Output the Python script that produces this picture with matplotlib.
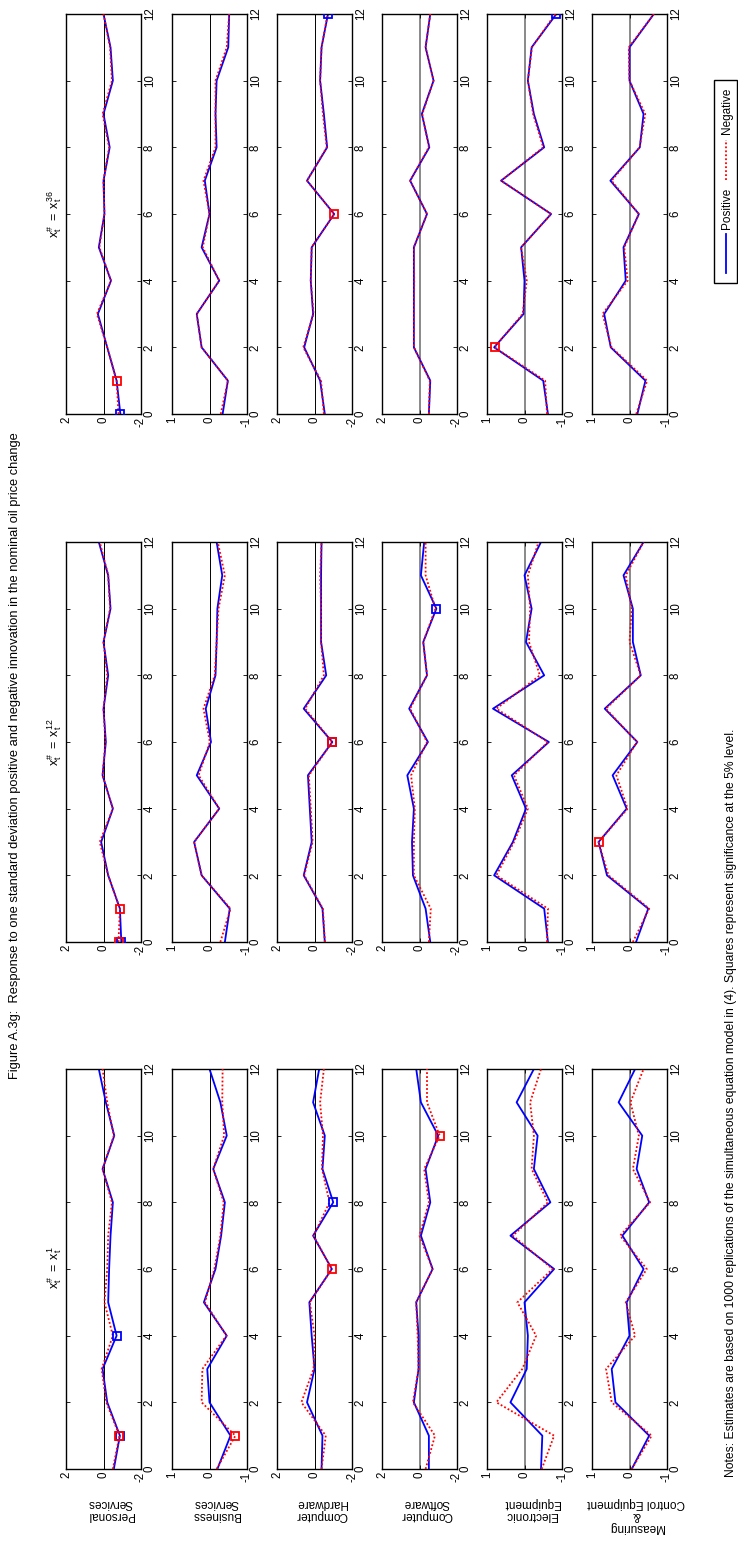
import numpy as np
import matplotlib
matplotlib.use("Agg")
import matplotlib.pyplot as plt
from matplotlib.patches import Rectangle
from matplotlib.lines import Line2D

plt.rcParams['font.family'] = ['Liberation Sans', 'DejaVu Sans']
plt.rcParams['axes.unicode_minus'] = False
plt.rcParams['mathtext.fontset'] = 'custom'
plt.rcParams['mathtext.rm'] = 'Liberation Sans'
plt.rcParams['mathtext.it'] = 'Liberation Sans:italic'

# horizon (months)
horizon = np.arange(13)

sectors = ["Personal\nServices", "Business\nServices", "Computer\nHardware",
           "Computer\nSoftware", "Electronic\nEquipment",
           "Measuring\n&\nControl Equipment"]
sector_lim = [2, 1, 2, 2, 1, 1]
lags = ["1", "12", "36"]

# x# = x1 : responses t=0..12
pos_x1 = [
    [-0.55, -0.875, -0.2, 0.05, -0.7, -0.25, -0.3, -0.375, -0.5, 0.05, -0.575, -0.125, 0.25],
    [-0.21, -0.56, 0.0, 0.06, -0.46, 0.15, -0.16, -0.31, -0.41, -0.1, -0.46, -0.29, 0.0],
    [-0.375, -0.425, 0.4, 0.0, 0.15, 0.275, -0.925, 0.075, -1.0, -0.425, -0.55, 0.075, -0.25],
    [-0.5, -0.5, 0.3, 0.05, 0.05, 0.175, -0.7, -0.075, -0.575, -0.325, -1.0, -0.075, 0.175],
    [-0.44, -0.475, 0.375, -0.06, -0.09, 0.0, -0.79, 0.375, -0.69, -0.25, -0.35, 0.21, -0.25],
    [-0.06, -0.525, 0.375, 0.475, 0.0, 0.075, -0.375, 0.19, -0.525, -0.19, -0.34, 0.29, -0.15],
]
neg_x1 = [
    [-0.5, -0.85, -0.15, 0.1, -0.5, -0.05, -0.2, -0.25, -0.45, 0.05, -0.55, -0.2, 0.05],
    [-0.19, -0.69, 0.21, 0.19, -0.45, 0.12, -0.13, -0.29, -0.38, -0.1, -0.39, -0.34, -0.35],
    [-0.375, -0.6, 0.7, 0.05, 0.0, 0.25, -0.925, 0.05, -0.8, -0.4, -0.45, -0.3, -0.5],
    [-0.325, -0.825, 0.35, 0.05, 0.1, 0.175, -0.7, 0.0, -0.5, -0.25, -1.075, -0.4, -0.4],
    [-0.46, -0.79, 0.75, 0.06, -0.31, 0.19, -0.75, 0.31, -0.625, -0.19, -0.25, -0.15, -0.44],
    [-0.06, -0.59, 0.475, 0.625, -0.15, 0.1, -0.46, 0.25, -0.55, -0.09, -0.25, -0.025, -0.375],
]

# x# = x12
pos_x12 = [
    [-0.95, -0.875, -0.25, 0.125, -0.5, 0.05, -0.125, 0.0, -0.25, 0.0, -0.375, -0.25, 0.25],
    [-0.41, -0.54, 0.21, 0.41, -0.26, 0.34, -0.04, 0.1, -0.16, -0.19, -0.21, -0.34, -0.19],
    [-0.55, -0.425, 0.575, 0.15, 0.25, 0.35, -0.95, 0.575, -0.625, -0.35, -0.35, -0.35, -0.375],
    [-0.575, -0.325, 0.35, 0.4, 0.3, 0.65, -0.45, 0.55, -0.4, -0.2, -0.9, -0.075, -0.25],
    [-0.625, -0.525, 0.81, 0.31, -0.04, 0.34, -0.65, 0.84, -0.525, -0.04, -0.19, 0.0, -0.44],
    [-0.175, -0.5, 0.6, 0.825, 0.075, 0.45, -0.21, 0.66, -0.3, -0.09, -0.09, 0.16, -0.375],
]
neg_x12 = [
    [-0.8, -0.875, -0.25, 0.2, -0.5, 0.05, -0.1, 0.0, -0.2, 0.0, -0.35, -0.25, 0.2],
    [-0.29, -0.56, 0.21, 0.41, -0.26, 0.29, -0.01, 0.16, -0.14, -0.19, -0.24, -0.41, -0.22],
    [-0.55, -0.45, 0.55, 0.1, 0.2, 0.3, -0.95, 0.5, -0.5, -0.35, -0.35, -0.3, -0.375],
    [-0.5, -0.6, 0.3, 0.3, 0.25, 0.45, -0.4, 0.5, -0.4, -0.2, -0.85, -0.325, -0.325],
    [-0.6, -0.625, 0.75, 0.28, -0.09, 0.28, -0.62, 0.75, -0.41, -0.12, -0.15, -0.09, -0.375],
    [-0.09, -0.525, 0.56, 0.825, 0.05, 0.35, -0.2, 0.63, -0.3, 0.0, -0.06, 0.1, -0.375],
]

# x# = x36
pos_x36 = [
    [-0.9, -0.7, -0.2, 0.3, -0.4, 0.25, -0.05, 0.0, -0.33, 0.0, -0.5, -0.375, 0.0],
    [-0.35, -0.49, 0.21, 0.34, -0.26, 0.21, 0.0, 0.125, -0.19, -0.16, -0.19, -0.5, -0.525],
    [-0.55, -0.3, 0.55, 0.075, 0.2, 0.15, -1.05, 0.4, -0.675, -0.5, -0.3, -0.375, -0.72],
    [-0.5, -0.575, 0.3, 0.3, 0.3, 0.3, -0.4, 0.5, -0.525, -0.125, -0.75, -0.325, -0.575],
    [-0.625, -0.5, 0.81, 0.025, 0.0, 0.09, -0.71, 0.625, -0.525, -0.25, -0.09, -0.19, -0.85],
    [-0.21, -0.425, 0.5, 0.675, 0.1, 0.16, -0.25, 0.51, -0.275, -0.375, 0.0, 0.0, -0.65],
]
neg_x36 = [
    [-0.8, -0.7, -0.2, 0.35, -0.4, 0.22, -0.05, 0.0, -0.3, 0.05, -0.45, -0.35, 0.0],
    [-0.3, -0.49, 0.21, 0.34, -0.26, 0.18, 0.0, 0.16, -0.16, -0.16, -0.16, -0.46, -0.525],
    [-0.5, -0.35, 0.6, 0.05, 0.2, 0.15, -1.05, 0.4, -0.65, -0.45, -0.3, -0.375, -0.7],
    [-0.5, -0.55, 0.3, 0.3, 0.28, 0.3, -0.4, 0.5, -0.5, -0.15, -0.75, -0.325, -0.575],
    [-0.6, -0.55, 0.8, 0.05, -0.06, 0.09, -0.71, 0.62, -0.5, -0.23, -0.09, -0.2, -0.82],
    [-0.18, -0.47, 0.48, 0.72, 0.05, 0.14, -0.25, 0.48, -0.27, -0.42, 0.0, 0.02, -0.65],
]

# significant horizons (squares), per sector
sig_pos_x1 = [[1, 4], [], [8], [], [], []]
sig_neg_x1 = [[1], [1], [6], [10], [], []]
sig_pos_x12 = [[0], [], [6], [10], [], []]
sig_neg_x12 = [[0, 1], [], [6], [], [], [3]]
sig_pos_x36 = [[0], [], [12], [], [12], []]
sig_neg_x36 = [[1], [], [6], [], [2], []]

title = ("Figure A.3g:  Response to one standard deviation positive and negative "
         "innovation in the nominal oil price change")
notes = ("Notes: Estimates are based on 1000 replications of the simultaneous equation "
         "model in (4). Squares represent significance at the 5% level.")

W, H = 738, 1545
fig = plt.figure(figsize=(W / 100, H / 100), dpi=100)

# page is turned: horizon runs bottom->top, columns stacked vertically
col_top = [1069, 542, 14]
col_h = 400
row_left = [66, 172, 277, 382, 487, 592]
row_w = 75

pos_all = [pos_x1, pos_x12, pos_x36]
neg_all = [neg_x1, neg_x12, neg_x36]
sp_all = [sig_pos_x1, sig_pos_x12, sig_pos_x36]
sn_all = [sig_neg_x1, sig_neg_x12, sig_neg_x36]

blue = '#0000ff'
red = '#ff0000'

for c in range(3):
    for r in range(6):
        ax = fig.add_axes([row_left[r] / W, 1 - (col_top[c] + col_h) / H, row_w / W, col_h / H])
        lim = sector_lim[r]
        if r < 3:
            ax.axvline(0, color='black', lw=0.7, zorder=1)
        else:
            ax.axvline(0, color='#808080', lw=1.3, zorder=1)
        p = np.array(pos_all[c][r])
        n = np.array(neg_all[c][r])
        ax.plot(p, horizon, color=blue, lw=1.3, zorder=2)
        ax.plot(n, horizon, color=red, lw=1.3, ls=(0, (1, 1.2)), zorder=3)
        ip = sp_all[c][r]
        inn = sn_all[c][r]
        if ip:
            ax.plot(p[ip], horizon[ip], ls='none', marker='s', ms=5.5, mfc='none',
                    mec=blue, mew=1.3, zorder=4)
        if inn:
            ax.plot(n[inn], horizon[inn], ls='none', marker='s', ms=5.5, mfc='none',
                    mec=red, mew=1.3, zorder=5)
        ax.set_xlim(lim, -lim)
        ax.set_ylim(0, 12)
        ax.set_xticks([lim, 0, -lim])
        ax.set_xticklabels([str(lim), "0", str(-lim)])
        ax.set_yticks(range(0, 13, 2))
        ax.yaxis.tick_right()
        ax.tick_params(axis='y', left=True, right=True, labelleft=False, labelright=True,
                       labelrotation=90, direction='in', length=3, width=0.6,
                       labelsize=8.3, pad=2)
        ax.tick_params(axis='x', top=True, bottom=True, direction='in', length=3,
                       width=0.6, labelrotation=90, labelsize=8.3, pad=2)
        for lab in ax.get_yticklabels():
            lab.set_va('center')
        for s in ax.spines.values():
            s.set_linewidth(1.0)
        if c == 0:
            fig.text((row_left[r] + row_w / 2 + 7) / W, 1 - 1497 / H, sectors[r],
                     rotation=180, ha='center', va='top', fontsize=8.5,
                     multialignment='center', linespacing=1.0)

# column headers
col_mid = [1268, 742, 214]
for c in range(3):
    fig.text(55 / W, 1 - col_mid[c] / H,
             r'$\mathregular{x_t^{\#}\ =\ x_t^{%s}}$' % lags[c],
             rotation=90, ha='center', va='center', fontsize=9)

fig.text(15 / W, 1 - 756 / H, title, rotation=90, ha='center', va='center', fontsize=9.3)
fig.text(731 / W, 1 - 1477 / H, notes, rotation=90, ha='center', va='bottom', fontsize=8.7)

# legend box (drawn turned with the page)
fig.add_artist(Rectangle((714 / W, 1 - 283 / H), 23 / W, 203 / H, transform=fig.transFigure,
                         fill=False, lw=1.0, edgecolor='black'))
fig.add_artist(Line2D([726 / W, 726 / W], [1 - 273 / H, 1 - 234 / H], transform=fig.transFigure,
                      color=blue, lw=1.3))
fig.text(727 / W, 1 - 229 / H, "Positive", rotation=90, ha='center', va='bottom', fontsize=8.5)
fig.add_artist(Line2D([726 / W, 726 / W], [1 - 180 / H, 1 - 140 / H], transform=fig.transFigure,
                      color=red, lw=1.3, ls=(0, (1, 1.2))))
fig.text(727 / W, 1 - 134 / H, "Negative", rotation=90, ha='center', va='bottom', fontsize=8.5)

fig.savefig("out.png", dpi=100)
